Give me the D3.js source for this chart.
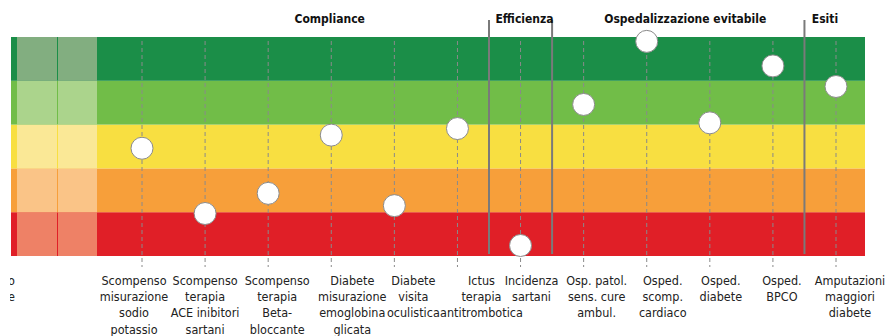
<!DOCTYPE html>
<html>
<head>
<meta charset="utf-8">
<script src="https://cdn.jsdelivr.net/npm/d3@7"></script>
<style>
  body { margin: 0; background: #fff; }
  svg text { font-family: "Liberation Sans Narrow", "DejaVu Sans Condensed", sans-serif; }
</style>
</head>
<body>
<svg class="chart"></svg>
<script>
// indicatori (etichette su più righe)
var labels = [
  ["Scompenso", "misurazione", "sodio", "potassio"],
  ["Scompenso", "terapia", "ACE inibitori", "sartani"],
  ["Scompenso", "terapia", "Beta-", "bloccante"],
  ["Diabete", "misurazione", "emoglobina", "glicata"],
  ["Diabete", "visita", "oculistica"],
  ["Ictus", "terapia", "antitrombotica"],
  ["Incidenza", "sartani"],
  ["Osp. patol.", "sens. cure", "ambul."],
  ["Osped.", "scomp.", "cardiaco"],
  ["Osped.", "diabete"],
  ["Osped.", "BPCO"],
  ["Amputazioni", "maggiori", "diabete"]
]
// punteggio 0-5 (fasce dal rosso al verde scuro)
var scores = [2.46, 0.97, 1.43, 2.76, 1.15, 2.91, 0.24, 3.46, 4.90, 3.04, 4.34, 3.87]

var groupNames = ["Compliance", "Efficienza", "Ospedalizzazione evitabile", "Esiti"]
var groupFirst = [0, 6, 7, 11]
var groupLast = [5, 6, 10, 11]

var bandColors = ["#e01f27", "#f79f3a", "#f8df41", "#71bd48", "#1b8e48"]
var fadedColors = ["#ee8166", "#fac487", "#fae896", "#abd48c", "#82ae80"]

// piccoli aggiustamenti di layout presi dall'originale
var labelShift = [-8, 0, 9, 21, 19, 24, 11, 13, 16, 11, 9, 14]
var headerShift = [30, 4, 7, -11]

var width = 886;
var height = 336;
var svg = d3.select(".chart").attr("width", width).attr("height", height)

var idx = d3.range(labels.length)

var x = d3.scalePoint()
    .domain(idx)
    .range([142, 836]);

var y = d3.scaleLinear()
    .domain([0, 5])
    .range([256, 37]);

var left = 11, right = 865;

// fasce colorate
svg.selectAll("rect.band")
  .data(d3.range(5))
  .enter().append("rect")
    .attr("class", "band")
    .attr("x", left)
    .attr("y", function(d){ return y(d + 1) })
    .attr("width", right - left)
    .attr("height", function(d){ return y(d) - y(d + 1) })
    .attr("fill", function(d){ return bandColors[d] });

// zona sbiadita a sinistra
var fadeA = 17, fadeMid = 57, fadeB = 97;
[[fadeA, fadeMid], [fadeMid + 1, fadeB]].forEach(function(seg){
  svg.selectAll(null)
    .data(d3.range(5))
    .enter().append("rect")
      .attr("x", seg[0])
      .attr("y", function(d){ return y(d + 1) })
      .attr("width", seg[1] - seg[0])
      .attr("height", function(d){ return y(d) - y(d + 1) })
      .attr("fill", function(d){ return fadedColors[d] });
});

// linee tratteggiate
svg.selectAll("line.guide")
  .data(idx)
  .enter().append("line")
    .attr("class", "guide")
    .attr("x1", function(d){ return x(d) })
    .attr("x2", function(d){ return x(d) })
    .attr("y1", 41)
    .attr("y2", 267)
    .attr("stroke", "#8a8a8a")
    .attr("stroke-width", 1)
    .attr("stroke-dasharray", "4,3");

// separatori dei gruppi
var seps = groupFirst.slice(1).map(function(g){ return (x(g - 1) + x(g)) / 2 })
svg.selectAll("line.sep")
  .data(seps)
  .enter().append("line")
    .attr("class", "sep")
    .attr("x1", function(d){ return d })
    .attr("x2", function(d){ return d })
    .attr("y1", 20)
    .attr("y2", 254)
    .attr("stroke", "#7a7a7a")
    .attr("stroke-width", 2);

// titoli dei gruppi
svg.selectAll("text.group")
  .data(groupNames)
  .enter().append("text")
    .attr("class", "group")
    .attr("x", function(d, i){ return (x(groupFirst[i]) + x(groupLast[i])) / 2 + headerShift[i] })
    .attr("y", 23)
    .attr("text-anchor", "middle")
    .attr("font-size", 12)
    .attr("font-weight", "bold")
    .attr("fill", "#111")
    .text(function(d){ return d });

// punti
svg.selectAll("circle")
  .data(scores)
  .enter().append("circle")
    .attr("cx", function(d, i){ return x(i) })
    .attr("cy", function(d){ return y(d) })
    .attr("r", 11)
    .attr("fill", "#fff")
    .attr("stroke", "#8a8a8a")
    .attr("stroke-width", 1);

// etichette
var lab = svg.selectAll("text.lab")
  .data(labels)
  .enter().append("text")
    .attr("class", "lab")
    .attr("text-anchor", "middle")
    .attr("font-size", 12.5)
    .attr("fill", "#222")
    .attr("transform", function(d, i){ return "translate(" + (x(i) + labelShift[i]) + ",285)" });

lab.selectAll("tspan")
  .data(function(d){ return d })
  .enter().append("tspan")
    .attr("x", 0)
    .attr("y", function(d, j){ return j * 16.2 })
    .text(function(d){ return d });

// etichetta tagliata a sinistra
svg.append("clipPath").attr("id", "cut")
  .append("rect").attr("x", 10).attr("y", 260).attr("width", 30).attr("height", 60);

svg.append("text")
    .attr("clip-path", "url(#cut)")
    .attr("text-anchor", "end")
    .attr("font-size", 12.5)
    .attr("fill", "#222")
    .selectAll("tspan")
    .data(["Punteggio", "complessivo medio sintetico nazionale"])
    .enter().append("tspan")
      .attr("x", 15)
      .attr("y", function(d, j){ return 285 + j * 16.2 })
      .text(function(d){ return d });
</script>
</body>
</html>
